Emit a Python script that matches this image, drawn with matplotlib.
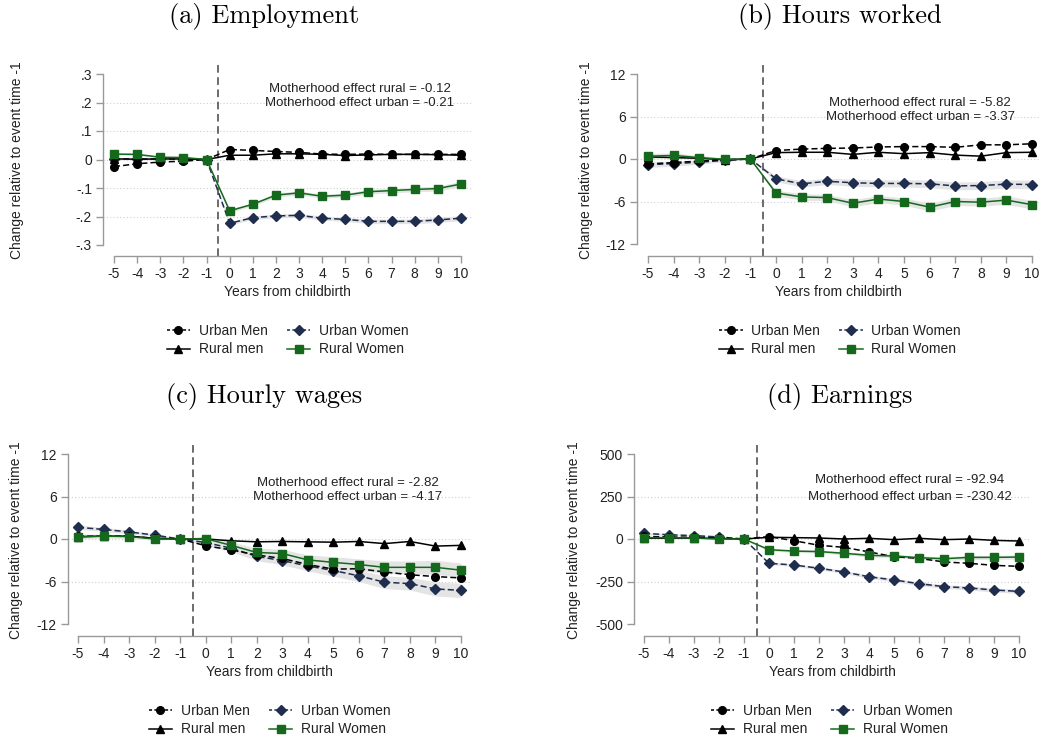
import matplotlib
matplotlib.use("Agg")
import matplotlib.pyplot as plt
from matplotlib.lines import Line2D

plt.rcParams['font.family'] = ['Liberation Sans', 'DejaVu Sans']

years = list(range(-5, 11))

# (a) Employment
emp_urban_men = [-0.025, -0.015, -0.009, -0.006, 0, 0.035, 0.032, 0.028, 0.025, 0.019, 0.018, 0.019, 0.018, 0.018, 0.018, 0.018]
emp_rural_men = [0.002, 0.001, 0.002, 0.002, 0, 0.015, 0.015, 0.020, 0.020, 0.018, 0.014, 0.016, 0.018, 0.018, 0.017, 0.015]
emp_urban_women = [0.003, 0.002, 0.002, 0.001, 0, -0.224, -0.204, -0.198, -0.196, -0.206, -0.210, -0.217, -0.217, -0.217, -0.212, -0.206]
emp_rural_women = [0.019, 0.018, 0.008, 0.007, 0, -0.180, -0.157, -0.125, -0.117, -0.129, -0.125, -0.113, -0.109, -0.105, -0.102, -0.086]
emp_ci = [0.004, 0.004, 0.003, 0.003, 0, 0.006, 0.006, 0.007, 0.007, 0.007, 0.007, 0.008, 0.008, 0.008, 0.009, 0.009]

# (b) Hours worked
hrs_urban_men = [-0.7, -0.5, -0.3, -0.1, 0, 1.2, 1.4, 1.5, 1.55, 1.7, 1.75, 1.75, 1.65, 2.0, 2.0, 2.15]
hrs_rural_men = [0.3, 0.2, 0.1, -0.1, 0, 0.9, 0.95, 0.95, 0.65, 0.95, 0.75, 0.9, 0.55, 0.4, 0.9, 0.95]
hrs_urban_women = [-0.8, -0.65, -0.45, -0.2, 0, -2.8, -3.5, -3.15, -3.35, -3.45, -3.45, -3.5, -3.8, -3.75, -3.55, -3.6]
hrs_rural_women = [0.4, 0.5, 0.2, -0.05, 0, -4.8, -5.35, -5.45, -6.25, -5.65, -6.0, -6.8, -6.0, -6.1, -5.8, -6.45]
hrs_ci = [0.4, 0.35, 0.3, 0.2, 0, 0.4, 0.45, 0.45, 0.5, 0.5, 0.5, 0.55, 0.55, 0.55, 0.6, 0.6]

# (c) Hourly wages
wag_urban_men = [0.4, 0.4, 0.4, 0.1, 0, -0.95, -1.55, -2.25, -2.75, -3.6, -4.25, -4.2, -4.65, -5.05, -5.3, -5.5]
wag_rural_men = [0.3, 0.4, 0.4, 0.1, 0, 0.0, -0.25, -0.4, -0.35, -0.4, -0.45, -0.35, -0.65, -0.35, -1.0, -0.9]
wag_urban_women = [1.65, 1.35, 1.0, 0.55, 0, -0.5, -1.3, -2.45, -3.05, -3.8, -4.45, -5.2, -6.1, -6.3, -7.05, -7.25]
wag_rural_women = [0.35, 0.4, 0.35, 0.0, 0, 0.05, -0.9, -1.9, -2.05, -2.95, -3.3, -3.6, -4.0, -4.0, -4.0, -4.4]
wag_ci = [0.3, 0.3, 0.25, 0.2, 0, 0.4, 0.5, 0.6, 0.6, 0.7, 0.8, 0.8, 0.9, 0.9, 1.0, 1.0]

# (d) Earnings
ear_urban_men = [15, 12, 10, 5, 0, 14, -10, -37, -49, -76, -104, -114, -135, -143, -155, -161]
ear_rural_men = [5, 5, 5, 3, 0, 10, 8, 6, 0, 4, -4, 4, -4, 0, -8, -12]
ear_urban_women = [33, 25, 20, 12, 0, -143, -153, -172, -194, -222, -241, -263, -280, -288, -300, -308]
ear_rural_women = [8, 8, 6, 0, 0, -63, -71, -74, -84, -96, -100, -110, -116, -108, -108, -106]
ear_ci = [6, 6, 5, 4, 0, 8, 8, 9, 9, 10, 10, 11, 11, 12, 12, 12]

titles = ['(a) Employment', '(b) Hours worked', '(c) Hourly wages', '(d) Earnings']
effects = [('-0.12', '-0.21'), ('-5.82', '-3.37'), ('-2.82', '-4.17'), ('-92.94', '-230.42')]
ytick_vals = [[0.3, 0.2, 0.1, 0, -0.1, -0.2, -0.3],
              [12, 6, 0, -6, -12],
              [12, 6, 0, -6, -12],
              [500, 250, 0, -250, -500]]
ytick_labels = [['.3', '.2', '.1', '0', '-.1', '-.2', '-.3'],
                ['12', '6', '0', '-6', '-12'],
                ['12', '6', '0', '-6', '-12'],
                ['500', '250', '0', '-250', '-500']]

panels = [
    (emp_urban_men, emp_rural_men, emp_urban_women, emp_rural_women, emp_ci),
    (hrs_urban_men, hrs_rural_men, hrs_urban_women, hrs_rural_women, hrs_ci),
    (wag_urban_men, wag_rural_men, wag_urban_women, wag_rural_women, wag_ci),
    (ear_urban_men, ear_rural_men, ear_urban_women, ear_rural_women, ear_ci),
]

W, H = 1040, 740
# axes rect in pixels (left, top, right, bottom) and pixel spots of x=-5, x=10, top tick, bottom tick
layout = [
    dict(rect=(103, 64, 472, 256), xpx=(114, 461), ypx=(74, 245), ylab=24, title=(264, 17), note=(360, 89, 103)),
    dict(rect=(637, 64, 1040, 256), xpx=(648, 1032), ypx=(74, 244), ylab=593, title=(840, 17), note=(920, 103, 117)),
    dict(rect=(68, 444, 470, 636), xpx=(78, 461), ypx=(454, 624), ylab=23, title=(264, 397), note=(348, 483, 497)),
    dict(rect=(634, 444, 1030, 636), xpx=(644, 1019), ypx=(454, 624), ylab=581, title=(840, 397), note=(910, 480, 497)),
]

navy = '#1f2d4f'
green = '#15691c'
axis_gray = '#999999'
txt = '#222222'

fig = plt.figure(figsize=(W / 100, H / 100), dpi=100)
fig.patch.set_facecolor('white')

for i, (um, rm, uw, rw, ci) in enumerate(panels):
    L = layout[i]
    l, t, r, b = L['rect']
    ax = fig.add_axes([l / W, 1 - b / H, (r - l) / W, (b - t) / H])

    # derive limits so that ticks land on the same pixels as the reference
    x0p, x1p = L['xpx']
    sx = (10 - (-5)) / (x1p - x0p)
    ax.set_xlim(-5 - (x0p - l) * sx, 10 + (r - x1p) * sx)
    yt, yb = L['ypx']
    ytop, ybot = ytick_vals[i][0], ytick_vals[i][-1]
    sy = (ytop - ybot) / (yb - yt)
    ax.set_ylim(ybot - (b - yb) * sy, ytop + (yt - t) * sy)

    # grid at inner ticks
    for v in ytick_vals[i][1:-1]:
        ax.axhline(v, color='#cfcfcf', lw=0.8, ls=(0, (1, 2)), zorder=0)

    # confidence bands for women
    for series in (uw, rw):
        ax.fill_between(years, [s - c for s, c in zip(series, ci)], [s + c for s, c in zip(series, ci)],
                        color='#e4e4e4', lw=0, zorder=1)

    ax.axvline(-0.5, color='#444444', lw=1.1, ls=(0, (5, 3)), zorder=2)

    ax.plot(years, um, color='black', ls=(0, (4, 2)), lw=1.1, marker='o', ms=5.5, zorder=4)
    ax.plot(years, rm, color='black', ls='-', lw=1.1, marker='^', ms=6, zorder=4)
    ax.plot(years, uw, color=navy, ls=(0, (4, 2)), lw=1.1, marker='D', ms=5.5, zorder=3)
    ax.plot(years, rw, color=green, ls='-', lw=1.1, marker='s', ms=5.5, zorder=5)

    ax.spines[['top', 'right']].set_visible(False)
    for s in ('left', 'bottom'):
        ax.spines[s].set_color(axis_gray)
        ax.spines[s].set_linewidth(1.0)
    ax.spines['left'].set_bounds(ybot, ytop)
    ax.spines['bottom'].set_bounds(-5, 10)

    ax.set_xticks(years)
    ax.set_xticklabels([str(y) for y in years])
    ax.set_yticks(ytick_vals[i])
    ax.set_yticklabels(ytick_labels[i])
    ax.tick_params(axis='both', color=axis_gray, length=5, width=1.0, labelsize=10, labelcolor=txt, pad=3)

    ax.set_xlabel('Years from childbirth', fontsize=10, color=txt, labelpad=3)
    ax.set_ylabel('Change relative to event time -1', fontsize=10, color=txt)
    ax.yaxis.set_label_coords((L['ylab'] - l) / (r - l), 0.5)

    fig.text(L['title'][0] / W, 1 - L['title'][1] / H, titles[i], family='cmr10', fontsize=19,
             ha='center', va='center', color='black')

    nx, ny1, ny2 = L['note']
    fig.text(nx / W, 1 - ny1 / H, 'Motherhood effect rural = ' + effects[i][0], fontsize=9.5,
             ha='center', va='center', color=txt)
    fig.text(nx / W, 1 - ny2 / H, 'Motherhood effect urban = ' + effects[i][1], fontsize=9.5,
             ha='center', va='center', color=txt)

    handles = [
        Line2D([], [], color='black', ls=(0, (2, 1.5)), lw=1.1, marker='o', ms=5.5),
        Line2D([], [], color='black', ls='-', lw=1.1, marker='^', ms=6),
        Line2D([], [], color=navy, ls=(0, (2, 1.5)), lw=1.1, marker='D', ms=5.5),
        Line2D([], [], color=green, ls='-', lw=1.1, marker='s', ms=5.5),
    ]
    labels = ['Urban Men', 'Rural men', 'Urban Women', 'Rural Women']
    cx = ((x0p + x1p) / 2 - l) / (r - l)
    ax.legend(handles, labels, ncol=2, loc='center', bbox_to_anchor=(cx, -84 / (b - t)),
              frameon=False, fontsize=10, handlelength=1.7, handletextpad=0.6, columnspacing=1.4,
              labelspacing=0.35, labelcolor=txt)

fig.savefig('out.png', dpi=100, facecolor='white')
